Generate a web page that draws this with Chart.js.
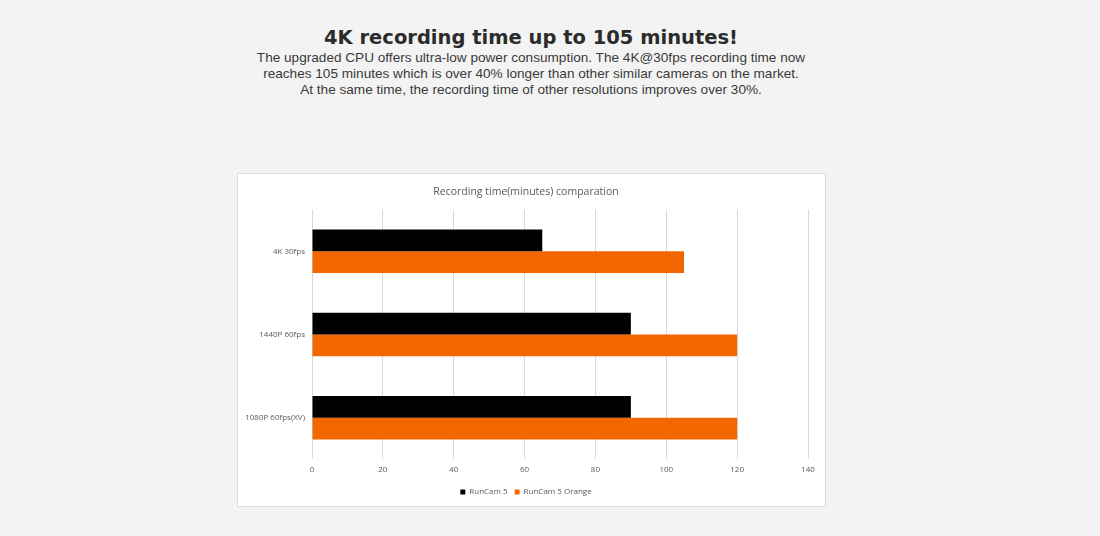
<!DOCTYPE html>
<html>
<head>
<meta charset="utf-8">
<script src="https://cdn.jsdelivr.net/npm/chart.js@4/dist/chart.umd.min.js"></script>
<style>
  html, body { margin: 0; padding: 0; background: #f3f3f3; }
  body { width: 1100px; height: 536px; position: relative; overflow: hidden; }
  .head { position: absolute; left: 0; top: 25px; width: 1062px; text-align: center; color: #333; }
  .head h1 { margin: 0; font-family: "DejaVu Sans", sans-serif; font-weight: bold; font-size: 19.5px; line-height: 25px; color: #2b2b2b; }
  .head p { margin: 0; font-family: "Liberation Sans", Arial, sans-serif; font-size: 13.6px; line-height: 16px; color: #3a3a3a; }
  .box { position: absolute; left: 237px; top: 173px; width: 587px; height: 332px; background: #fff; border: 1px solid #dcdcdc; }
</style>
</head>
<body>
<div class="head">
  <h1>4K recording time up to 105 minutes!</h1>
  <p>The upgraded CPU offers ultra-low power consumption. The 4K@30fps recording time now<br>
  reaches 105 minutes which is over 40% longer than other similar cameras on the market.<br>
  At the same time, the recording time of other resolutions improves over 30%.</p>
</div>
<div class="box"><canvas id="chart" width="587" height="332"></canvas></div>
<script>
// Chart data
const categories = ['4K 30fps', '1440P 60fps', '1080P 60fps(XV)'];
const runcam5 = [65, 90, 90];
const runcam5Orange = [105, 120, 120];
const xTicks = [0, 20, 40, 60, 80, 100, 120, 140];

const FONT = '"Open Sans", "Noto Sans", sans-serif';
const GREY = '#595959';

new Chart(document.getElementById('chart'), {
  type: 'bar',
  data: {
    labels: categories,
    datasets: [
      { label: 'RunCam 5', data: runcam5, backgroundColor: '#000000' },
      { label: 'RunCam 5 Orange', data: runcam5Orange, backgroundColor: '#f26700' }
    ]
  },
  options: {
    indexAxis: 'y',
    responsive: false,
    animation: false,
    categoryPercentage: 0.524,
    barPercentage: 1,
    layout: { padding: { left: 6, right: 17, top: 0, bottom: 0 } },
    plugins: {
      title: {
        display: true,
        text: 'Recording time(minutes) comparation',
        color: GREY,
        font: { family: FONT, size: 10.5, weight: 'normal' },
        padding: { top: 12, bottom: 11 }
      },
      legend: {
        position: 'bottom',
        labels: {
          color: GREY,
          font: { family: FONT, size: 8 },
          boxWidth: 5,
          boxHeight: 5,
          padding: 7
        }
      },
      tooltip: { enabled: false }
    },
    scales: {
      x: {
        min: 0,
        max: 140,
        afterBuildTicks: (scale) => { scale.ticks = xTicks.map(v => ({ value: v })); },
        grid: { color: '#d9d9d9', drawTicks: false },
        border: { display: false },
        ticks: { color: GREY, font: { family: FONT, size: 8 }, padding: 6 }
      },
      y: {
        grid: { display: false, drawTicks: false },
        border: { display: false },
        afterFit: (scale) => { scale.width = 68; },
        ticks: { color: GREY, font: { family: FONT, size: 8 }, padding: 7 }
      }
    }
  }
});
</script>
</body>
</html>
